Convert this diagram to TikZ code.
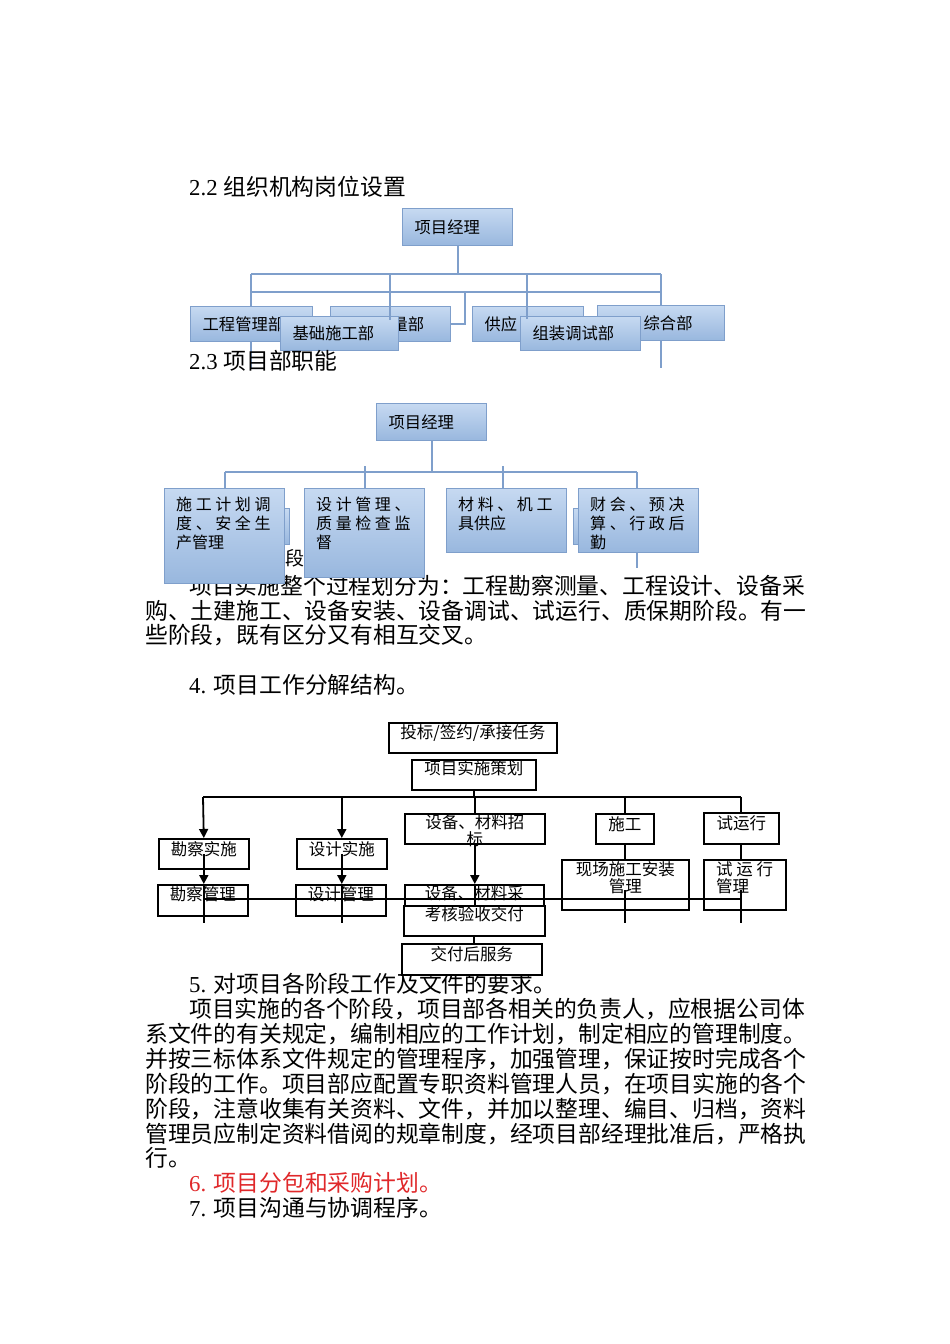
\documentclass[tikz,border=0pt]{standalone}
\usepackage{fontspec}
\setmainfont{Noto Sans CJK SC}
\newfontfamily\latin{Liberation Serif}
\usetikzlibrary{arrows.meta,positioning}
\definecolor{orgline}{HTML}{7F9FCB}
\definecolor{orgtop}{HTML}{C6D9F1}
\definecolor{orgbot}{HTML}{98B7DE}
\definecolor{notered}{HTML}{E0282A}

\begin{document}
\begin{tikzpicture}[x=1pt, y=-1pt,
    body text/.style={anchor=base west, inner sep=0pt, font=\fontsize{22.8}{26}\selectfont},
    org box/.style={draw=orgline, line width=1.3pt, top color=orgtop, bottom color=orgbot,
                    anchor=north west, inner sep=0pt, font=\fontsize{16.3}{19}\selectfont},
    org label/.style={org box, inner xsep=12pt, align=left},
    org para/.style={inner sep=0pt, align=left, font=\fontsize{16}{19}\selectfont},
    org line/.style={draw=orgline, line width=2pt},
    wbs box/.style={draw=black, line width=1.6pt, fill=white, anchor=north west, inner sep=0pt},
    wbs text/.style={inner sep=0pt, align=center, font=\fontsize{16.5}{17.5}\selectfont},
    wbs line/.style={draw=black, line width=1.8pt},
    wbs arrow/.style={wbs line, -{Triangle[length=9pt,width=9pt]}}]

  \useasboundingbox (0,0) rectangle (950,1344);
  \fill[white] (0,0) rectangle (950,1344);

  % 2.2
  \node[body text] (h22) at (189,195) {{\latin 2.2 }组织机构岗位设置};

  \node[org label, minimum height=37pt, text width=86pt] (pm1) at (402,208) {项目经理};
  \node[org label, minimum height=35pt, text width=98pt] (gcgl) at (190,306) {工程管理部};
  \node[org label, minimum height=35pt, text width=96pt] (zlb) at (330,306) {\hspace*{49pt}量部};
  \node[org label, minimum height=35pt, text width=87pt] (gyb) at (472,306) {供应};
  \node[org label, minimum height=35pt, text width=103pt] (zhb) at (597,305) {\hspace*{34pt}综合部};
  \node[org label, minimum height=34pt, text width=94pt] (jcsg) at (280,316) {基础施工部};
  \node[org label, minimum height=34pt, text width=96pt] (zzts) at (520,316) {组装调试部};

  \coordinate (bus1l) at (251,274);
  \coordinate (bus1r) at (661,274);
  \coordinate (bus2l) at (251,292);
  \coordinate (bus2r) at (661,292);
  \coordinate (drop1) at (390,274);
  \coordinate (drop2) at (527,274);
  \coordinate (drop3) at (465,292);
  \draw[org line] (pm1.south) -- (pm1.south |- bus1l);
  \draw[org line] (bus1l) -- (bus1r);
  \draw[org line] (bus2l) -- (bus2r);
  \draw[org line] (bus1l) -- (bus1l |- gcgl.north);
  \draw[org line] (bus1r) -- (bus1r |- zhb.north);
  \draw[org line] (drop1) -- ++(0,46);
  \draw[org line] (drop2) -- ++(0,45);
  \draw[org line] (drop3) |- (zlb.east);
  \draw[org line] (bus1l |- gcgl.south) -- ++(0,26);
  \draw[org line] (bus1r |- zhb.south) -- ++(0,27);

  % 2.3
  \node[body text] (h23) at (189,369) {{\latin 2.3 }项目部职能};

  \node[org label, minimum height=37pt, text width=86pt] (pm2) at (376,403) {项目经理};
  \coordinate (bus3l) at (225,472);
  \coordinate (bus3r) at (637,472);
  \coordinate (tick1) at (365,466);
  \coordinate (tick2) at (503,466);
  \draw[org line] (pm2.south) -- (pm2.south |- bus3l);
  \draw[org line] (bus3l) -- (bus3r);
  \draw[org line] (bus3l) -- ++(0,16);
  \draw[org line] (bus3r) -- ++(0,16);
  \draw[org line] (tick1) -- ++(0,22);
  \draw[org line] (tick2) -- ++(0,22);

  \node[body text, font=\fontsize{19}{22}\selectfont] (h3) at (285,565) {段};
  \node[body text] (p1a) at (189,594) {项目实施整个过程划分为：工程勘察测量、工程设计、设备采};

  \node[org box, minimum width=7pt, minimum height=36pt] (hid1) at (282,508) {};
  \node[org box, minimum width=7pt, minimum height=36pt] (hid2) at (573,508) {};
  \node[org box, minimum width=120pt, minimum height=95pt] (duty1) at (164,488) {};
  \node[org box, minimum width=120pt, minimum height=89pt] (duty2) at (304,488) {};
  \node[org box, minimum width=120pt, minimum height=64pt] (duty3) at (446,488) {};
  \node[org box, minimum width=120pt, minimum height=64pt] (duty4) at (578,488) {};
  \node[org para, below right=9pt and 12pt of duty1.north west] (duty1 text)
    {施\ 工\ 计\ 划\ 调\\度\ 、\ 安\ 全\ 生\\产管理};
  \node[org para, below right=9pt and 12pt of duty2.north west] (duty2 text)
    {设\ 计\ 管\ 理\ 、\\质\ 量\ 检\ 查\ 监\\督};
  \node[org para, below right=9pt and 12pt of duty3.north west] (duty3 text)
    {材\ 料\ 、\ 机\ 工\\具供应};
  \node[org para, below right=9pt and 12pt of duty4.north west] (duty4 text)
    {财\ 会\ 、\ 预\ 决\\算\ 、\ 行\ 政\ 后\\勤};
  \draw[org line] (bus3r |- duty4.south) -- ++(0,15);

  \node[body text] (p1b) at (145,619) {购、土建施工、设备安装、设备调试、试运行、质保期阶段。有一};
  \node[body text] (p1c) at (145,643) {些阶段，既有区分又有相互交叉。};
  \node[body text] (h4) at (189,693) {{\latin 4. }项目工作分解结构。};

  % work breakdown
  \node[wbs box, minimum width=168pt, minimum height=30pt] (bid) at (388,722) {};
  \node[wbs text, below=2pt of bid.north] (bid text) {投标/签约/承接任务};
  \node[wbs box, minimum width=124pt, minimum height=30pt] (plan) at (411,759) {};
  \node[wbs text, below=1pt of plan.north] (plan text) {项目实施策划};

  \node[wbs box, minimum width=90pt, minimum height=30pt] (kcss) at (158,838) {};
  \node[wbs text, below=3pt of kcss.north] (kcss text) {勘察实施};
  \node[wbs box, minimum width=90pt, minimum height=30pt] (sjss) at (296,838) {};
  \node[wbs text, below=3pt of sjss.north] (sjss text) {设计实施};
  \node[wbs box, minimum width=140pt, minimum height=30pt] (zb) at (404,813) {};
  \node[wbs text, below=1pt of zb.north] (zb text) {设备、材料招\\标};
  \node[wbs box, minimum width=58pt, minimum height=30pt] (sg) at (595,813) {};
  \node[wbs text, below=3pt of sg.north] (sg text) {施工};
  \node[wbs box, minimum width=75pt, minimum height=31pt] (syx) at (703,812) {};
  \node[wbs text, below=3pt of syx.north] (syx text) {试运行};

  \node[wbs box, minimum width=90pt, minimum height=31pt] (kcgl) at (157,884) {};
  \node[wbs text, below=2pt of kcgl.north] (kcgl text) {勘察管理};
  \node[wbs box, minimum width=90pt, minimum height=31pt] (sjgl) at (295,884) {};
  \node[wbs text, below=2pt of sjgl.north] (sjgl text) {设计管理};
  \node[wbs box, minimum width=139pt, minimum height=33pt] (cg) at (404,884) {};
  \node[wbs text, below=1pt of cg.north] (cg text) {设备、材料采};
  \node[wbs box, minimum width=127pt, minimum height=50pt] (xc) at (561,859) {};
  \node[wbs text, below=2pt of xc.north] (xc text) {现场施工安装\\管理};
  \node[wbs box, minimum width=82pt, minimum height=50pt] (syxgl) at (703,859) {};
  \node[wbs text, align=left, below right=2pt and 13pt of syxgl.north west] (syxgl text) {试\ 运\ 行\\管理};

  \coordinate (busL) at (203,797);
  \coordinate (busR) at (741,797);
  \coordinate (mid) at (0,890);
  \coordinate (cut) at (0,899);
  \coordinate (low) at (0,923);
  \draw[wbs line] (plan.south) -- (plan.south |- busL);
  \draw[wbs line] (busL) -- (busR);
  \draw[wbs arrow] (busL) -- (kcss.north);
  \draw[wbs arrow] (sjss.north |- busL) -- (sjss.north);
  \draw[wbs line] (zb.north |- busL) -- (zb.north);
  \draw[wbs line] (sg.north |- busL) -- (sg.north);
  \draw[wbs line] (busR) -- (busR |- syx.north);
  \draw[wbs arrow] (kcss.center) -- (kcss.center |- kcgl.north);
  \draw[wbs line] (kcss.center |- kcgl.north) -- (kcss.center |- low);
  \draw[wbs arrow] (sjss.center) -- (sjss.center |- sjgl.north);
  \draw[wbs line] (sjss.center |- sjgl.north) -- (sjss.center |- low);
  \draw[wbs arrow] (zb.south) -- (zb.south |- cg.north);
  \draw[wbs line] (zb.south |- cg.north) -- (zb.south |- low);
  \draw[wbs line] (sg.south) -- (sg.south |- xc.north);
  \draw[wbs line] (sg.south |- mid) -- (sg.south |- low);
  \draw[wbs line] (busR |- syx.south) -- (busR |- syxgl.north);
  \draw[wbs line] (busR |- mid) -- (busR |- low);
  \draw[wbs line] (busL |- cut) -- (busR |- cut);

  \node[body text] (h5) at (189,992) {{\latin 5. }对项目各阶段工作及文件的要求。};

  \node[wbs box, minimum width=141pt, minimum height=30pt] (khys) at (403,905) {};
  \node[wbs text, below=1pt of khys.north] (khys text) {考核验收交付};
  \node[wbs box, minimum width=140pt, minimum height=31pt] (jfhfw) at (401,943) {};
  \node[wbs text, below=3pt of jfhfw.north] (jfhfw text) {交付后服务};
  \draw[wbs line] (khys.south) -- (khys.south |- jfhfw.north);

  \node[body text] (p2a) at (189,1017) {项目实施的各个阶段，项目部各相关的负责人，应根据公司体};
  \node[body text] (p2b) at (145,1042) {系文件的有关规定，编制相应的工作计划，制定相应的管理制度。};
  \node[body text] (p2c) at (145,1067) {并按三标体系文件规定的管理程序，加强管理，保证按时完成各个};
  \node[body text] (p2d) at (145,1092) {阶段的工作。项目部应配置专职资料管理人员，在项目实施的各个};
  \node[body text] (p2e) at (145,1117) {阶段，注意收集有关资料、文件，并加以整理、编目、归档，资料};
  \node[body text] (p2f) at (145,1142) {管理员应制定资料借阅的规章制度，经项目部经理批准后，严格执};
  \node[body text] (p2g) at (145,1166) {行。};
  \node[body text, text=notered] (h6) at (189,1191) {{\latin 6. }项目分包和采购计划。};
  \node[body text] (h7) at (189,1216) {{\latin 7. }项目沟通与协调程序。};

\end{tikzpicture}
\end{document}
